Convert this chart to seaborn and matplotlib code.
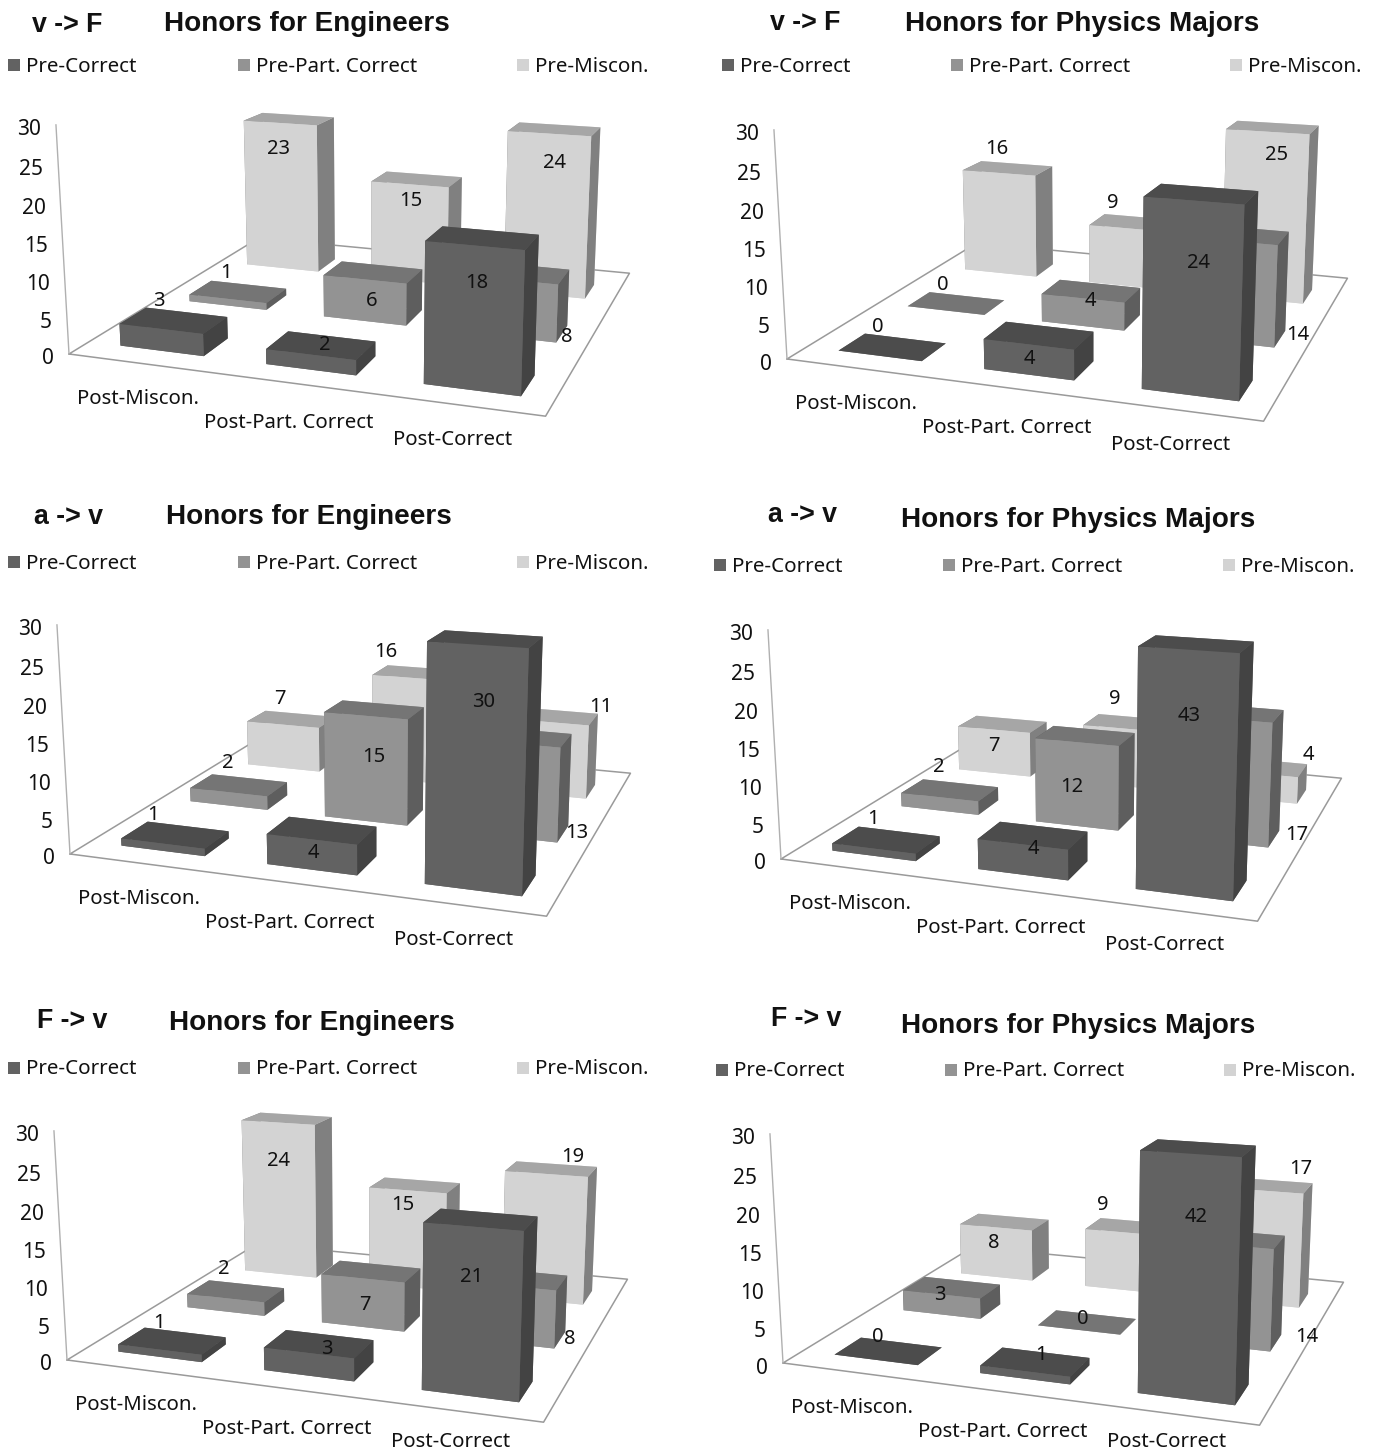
import numpy as np
import matplotlib
matplotlib.use("Agg")
import matplotlib.pyplot as plt
from mpl_toolkits.mplot3d import proj3d
from matplotlib.patches import Rectangle
import seaborn as sns

post_labels = ["Post-Miscon.", "Post-Part. Correct", "Post-Correct"]
pre_labels = ["Pre-Correct", "Pre-Part. Correct", "Pre-Miscon."]
z_ticks = [0, 5, 10, 15, 20, 25, 30]
Z_MAX = 30
tags = ["v -> F", "v -> F", "a -> v", "a -> v", "F -> v", "F -> v"]
titles = ["Honors for Engineers", "Honors for Physics Majors"] * 3

pre_correct = [[3, 2, 18], [0, 4, 24], [1, 4, 30], [1, 4, 43], [1, 3, 21], [0, 1, 42]]
pre_part = [[1, 6, 8], [0, 4, 14], [2, 15, 13], [2, 12, 17], [2, 7, 8], [3, 0, 14]]
pre_miscon = [[23, 15, 24], [16, 9, 25], [7, 16, 11], [7, 9, 4], [24, 15, 19], [8, 9, 17]]

# panel layout, pixels
origin_px = [(69, 354), (787, 359), (70, 854), (781, 859), (67, 1360), (783, 1363)]
tag_px = [(67, 25), (805, 23), (68, 517), (802, 515), (72, 1021), (806, 1019)]
title_px = [(164, 24), (905, 24), (166, 517), (901, 520), (169, 1023), (901, 1026)]
legend_y = [65, 65, 562, 565, 1068, 1070]
legend_sq_x = [(8, 238, 517), (722, 951, 1230), (8, 238, 517), (714, 943, 1223), (8, 238, 517), (716, 945, 1224)]

# value label anchors, pixels, same order as the series rows
label_px_correct = [
    [(159, 300), (325, 344), (477, 282)],
    [(878, 325), (1029, 357), (1198, 262)],
    [(153, 813), (313, 851), (484, 701)],
    [(873, 817), (1033, 848), (1189, 715)],
    [(159, 1322), (327, 1348), (472, 1275)],
    [(878, 1336), (1041, 1353), (1196, 1216)],
]
label_px_part = [
    [(226, 272), (372, 299), (567, 336)],
    [(943, 283), (1090, 299), (1298, 334)],
    [(228, 762), (374, 755), (577, 832)],
    [(939, 765), (1072, 785), (1297, 834)],
    [(224, 1268), (365, 1303), (570, 1338)],
    [(940, 1293), (1083, 1317), (1307, 1336)],
]
label_px_miscon = [
    [(279, 147), (411, 199), (554, 161)],
    [(997, 147), (1113, 202), (1277, 154)],
    [(280, 697), (386, 650), (601, 706)],
    [(994, 745), (1115, 697), (1308, 753)],
    [(278, 1159), (403, 1204), (573, 1155)],
    [(994, 1241), (1103, 1204), (1301, 1167)],
]

W, H = 1377, 1456
sns.set_theme(style="white")
plt.rcParams["font.family"] = ["Noto Sans", "DejaVu Sans"]
fig = plt.figure(figsize=(W / 100, H / 100), dpi=100, facecolor="white")

palette = sns.color_palette(["#626262", "#939393", "#d3d3d3"])
top_cols = ["#4c4c4c", "#757575", "#a6a6a6"]
side_cols = ["#434343", "#5e5e5e", "#808080"]

ELEV, AZIM, FOCAL, ASP_Y, ASP_Z = 13.987, -70.746, 0.397, 0.962, 0.4808
SCALE = 3461.0
BAR_W, BAR_D = 0.58, 0.36
X_PAD, Y_PAD = 0.225, 0.25
TEXT = "#111111"


def panel(k):
    ax = fig.add_axes([0, 0, 1000 / W, 1000 / H], projection="3d", computed_zorder=False)
    ax.view_init(elev=ELEV, azim=AZIM)
    ax.set_proj_type("persp", focal_length=FOCAL)
    ax.set_box_aspect((1, ASP_Y, ASP_Z))
    ax.set_xlim(0, 3, view_margin=0)
    ax.set_ylim(0, 3, view_margin=0)
    ax.set_zlim(0, Z_MAX, view_margin=0)
    ax.set_axis_off()
    ax.patch.set_visible(False)
    ax.apply_aspect()
    d0 = ax.transData.transform((0, 0))
    d1 = ax.transData.transform((1, 0))
    side = 1000 * SCALE / (d1[0] - d0[0])
    frac = d0[0] / 1000
    M = ax.get_proj()
    qx, qy, _ = proj3d.proj_transform(0, 0, 0, M)
    ox, oy = origin_px[k]
    left = ox - frac * side - SCALE * qx
    bottom = (H - oy) - frac * side - SCALE * qy
    ax.set_position([left / W, bottom / H, side / W, side / H])

    # floor and value axis
    ax.plot([0, 3, 3, 0, 0], [0, 0, 3, 3, 0], [0, 0, 0, 0, 0], color="#9a9a9a", lw=1.1, zorder=1)
    ax.plot([0, 0], [0, 0], [0, Z_MAX], color="#b0b0b0", lw=1.0, zorder=1)

    rows = [pre_correct[k], pre_part[k], pre_miscon[k]]
    z = 2
    for r in (2, 1, 0):
        for c in range(3):
            h = min(rows[r][c], Z_MAX)
            face = palette[r]
            cols = [face, top_cols[r], face, face, side_cols[r], side_cols[r]]
            ax.bar3d([c + X_PAD], [r + Y_PAD], [0], BAR_W, BAR_D, h, color=cols,
                     shade=False, zorder=z, linewidth=0)
            z += 1

    # value labels
    anchors = [label_px_correct[k], label_px_part[k], label_px_miscon[k]]
    for r in range(3):
        for c in range(3):
            lx, ly = anchors[r][c]
            fig.text(lx / W, 1 - (ly + 1.5) / H, str(rows[r][c]), ha="center", va="center",
                     fontsize=14.5, color=TEXT, zorder=100)

    # value axis labels
    for t in z_ticks:
        qx, qy, _ = proj3d.proj_transform(0, 0, t, M)
        ax.annotate(str(t), (qx, qy), xytext=(-15, -5), textcoords="offset pixels",
                    ha="right", va="center", fontsize=15, color=TEXT, annotation_clip=False)

    # category labels under the floor
    for lab, (dx, dy) in zip(post_labels, [(69, 45), (220, 69), (384, 86)]):
        fig.text((ox + dx) / W, 1 - min(oy + dy, 1442) / H, lab, ha="center", va="center",
                 fontsize=14.7, color=TEXT)

    # heading
    fig.text(tag_px[k][0] / W, 1 - tag_px[k][1] / H, tags[k], ha="center", va="center",
             fontsize=19.3, fontweight="bold", family="Liberation Sans", color=TEXT)
    fig.text(title_px[k][0] / W, 1 - title_px[k][1] / H, titles[k], ha="left", va="center",
             fontsize=20.1, fontweight="bold", family="Liberation Sans", color=TEXT)
    # legend
    for j, lab in enumerate(pre_labels):
        sx = legend_sq_x[k][j]
        y = legend_y[k]
        fig.add_artist(Rectangle((sx / W, 1 - (y + 6) / H), 12 / W, 12 / H, transform=fig.transFigure,
                                 facecolor=palette[j], edgecolor="none"))
        fig.text((sx + 18) / W, 1 - (y + 1.5) / H, lab, ha="left", va="center", fontsize=14.8, color=TEXT)


for k in range(6):
    panel(k)

fig.savefig("out.png", dpi=100, facecolor="white")
